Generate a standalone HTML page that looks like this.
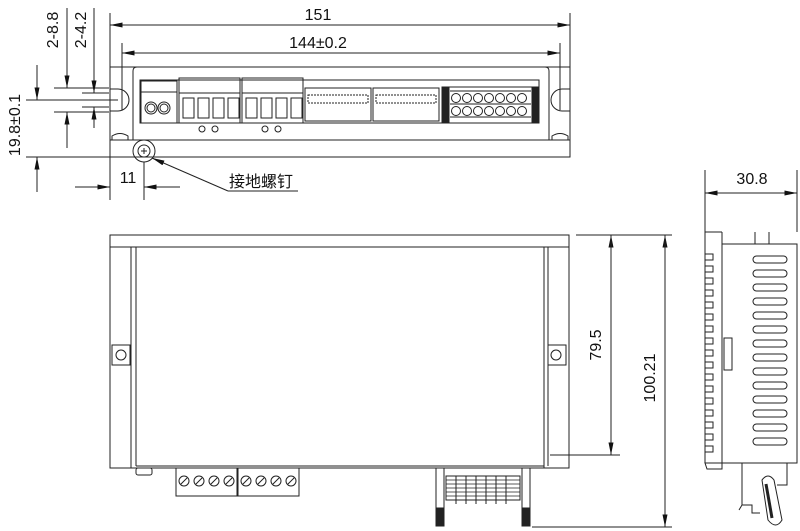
<!DOCTYPE html>
<html><head><meta charset="utf-8"><style>
body{margin:0;background:#fff}
svg{display:block}
text{font-family:"Liberation Sans","Noto Sans CJK SC",sans-serif;fill:#111}
</style></head><body>
<svg width="800" height="531" viewBox="0 0 800 531" xmlns="http://www.w3.org/2000/svg">
<defs>
<marker id="a" viewBox="0 0 10 4" refX="10" refY="2" markerWidth="16" markerHeight="5" orient="auto-start-reverse" markerUnits="userSpaceOnUse"><path d="M0,0L10,2L0,4z" fill="#111"/></marker>
</defs>
<g stroke="#222" stroke-width="1" fill="none">
<!-- TOP VIEW -->
<line x1="110" y1="13" x2="110" y2="67"/><line x1="570" y1="13" x2="570" y2="67"/>
<line x1="110" y1="25" x2="570" y2="25" marker-start="url(#a)" marker-end="url(#a)"/>
<line x1="122" y1="43" x2="122" y2="110"/><line x1="560" y1="43" x2="560" y2="110"/>
<line x1="122" y1="53" x2="560" y2="53" marker-start="url(#a)" marker-end="url(#a)"/>
<rect x="110" y="67" width="460" height="90"/>
<path d="M133,140 V71 Q133,67 137,67 H545 Q549,67 549,71 V140"/>
<line x1="110" y1="140" x2="570" y2="140"/>
<path d="M110,89 H118 A11,11 0 0 1 118,111 H110"/>
<path d="M570,89 H562 A11,11 0 0 0 562,111 H570"/>
<path d="M112,140 V136 Q120,131 128,136 V140"/><path d="M552,140 V136 Q560,131 568,136 V140"/>
<rect x="140" y="80" width="399" height="43"/>
<rect x="141" y="81" width="36" height="42"/><line x1="141" y1="92" x2="177" y2="92"/>
<circle cx="151" cy="108" r="6"/><circle cx="164" cy="108" r="6"/><circle cx="151" cy="108" r="4"/><circle cx="164" cy="108" r="4"/>
<rect x="179" y="78" width="61" height="45"/><line x1="179" y1="93" x2="240" y2="93"/>
<rect x="242" y="78" width="61" height="45"/><line x1="242" y1="93" x2="303" y2="93"/>
<rect x="183" y="98" width="11" height="20"/><rect x="198" y="98" width="11" height="20"/><rect x="213" y="98" width="11" height="20"/><rect x="228" y="98" width="11" height="20"/>
<rect x="246" y="98" width="11" height="20"/><rect x="261" y="98" width="11" height="20"/><rect x="276" y="98" width="11" height="20"/><rect x="291" y="98" width="11" height="20"/>
<rect x="305" y="88" width="66" height="33"/><rect x="373" y="88" width="66" height="33"/>
<path d="M308,95 h60 v8 h-60z M376,95 h60 v8 h-60z" stroke-dasharray="2 1"/>
<rect x="442" y="87" width="97" height="36" fill="#fff"/>
<rect x="443" y="87" width="6" height="36" fill="#222"/><rect x="532" y="87" width="6" height="36" fill="#222"/>
<path d="M450,91h81M450,104h81M450,117h81"/>
<g>
<circle cx="456" cy="98" r="4.5"/><circle cx="467" cy="98" r="4.5"/><circle cx="478" cy="98" r="4.5"/><circle cx="489" cy="98" r="4.5"/><circle cx="500" cy="98" r="4.5"/><circle cx="511" cy="98" r="4.5"/><circle cx="522" cy="98" r="4.5"/>
<circle cx="456" cy="111" r="4.5"/><circle cx="467" cy="111" r="4.5"/><circle cx="478" cy="111" r="4.5"/><circle cx="489" cy="111" r="4.5"/><circle cx="500" cy="111" r="4.5"/><circle cx="511" cy="111" r="4.5"/><circle cx="522" cy="111" r="4.5"/>
</g>
<circle cx="202" cy="129" r="3"/><circle cx="215" cy="129" r="3"/><circle cx="265" cy="129" r="3"/><circle cx="278" cy="129" r="3"/>
<circle cx="144" cy="151" r="11"/><circle cx="144" cy="151" r="6"/>
<path d="M141,151h6M144,148v6"/>
<!-- left dims -->
<line x1="54" y1="88" x2="109" y2="88"/><line x1="26" y1="100" x2="118" y2="100"/><line x1="54" y1="112" x2="109" y2="112"/>
<line x1="82" y1="93" x2="109" y2="93"/><line x1="82" y1="107" x2="109" y2="107"/>
<line x1="26" y1="157" x2="110" y2="157"/>
<line x1="67" y1="8" x2="67" y2="88" marker-end="url(#a)"/><line x1="67" y1="148" x2="67" y2="112" marker-end="url(#a)"/>
<line x1="94" y1="8" x2="94" y2="93" marker-end="url(#a)"/><line x1="94" y1="128" x2="94" y2="107" marker-end="url(#a)"/>
<line x1="37" y1="65" x2="37" y2="100" marker-end="url(#a)"/><line x1="37" y1="192" x2="37" y2="157" marker-end="url(#a)"/>
<line x1="110" y1="157" x2="110" y2="200"/><line x1="144" y1="162" x2="144" y2="200"/>
<line x1="75" y1="187" x2="110" y2="187" marker-end="url(#a)"/><line x1="180" y1="187" x2="144" y2="187" marker-end="url(#a)"/>
<line x1="228" y1="191" x2="152" y2="158" marker-end="url(#a)"/><line x1="228" y1="191" x2="298" y2="191"/>
<!-- FRONT VIEW -->
<rect x="110" y="235" width="459" height="233"/>
<line x1="110" y1="247" x2="569" y2="247"/>
<line x1="131" y1="247" x2="131" y2="468"/><line x1="136" y1="247" x2="136" y2="466"/>
<line x1="544" y1="247" x2="544" y2="468"/><line x1="548" y1="247" x2="548" y2="466"/>
<line x1="136" y1="466" x2="544" y2="466"/>
<circle cx="121" cy="355" r="5"/><rect x="112" y="345" width="18" height="20"/>
<circle cx="556" cy="355" r="5"/><rect x="548" y="345" width="18" height="20"/>
<rect x="136" y="468" width="16" height="7" rx="2"/>
<rect x="176" y="468" width="61" height="28"/><rect x="238" y="468" width="61" height="28"/>
<g fill="#fff"><circle cx="184" cy="481" r="5"/><circle cx="199" cy="481" r="5"/><circle cx="214" cy="481" r="5"/><circle cx="229" cy="481" r="5"/><circle cx="246" cy="481" r="5"/><circle cx="261" cy="481" r="5"/><circle cx="276" cy="481" r="5"/><circle cx="291" cy="481" r="5"/></g>
<path d="M181,484l6,-6M196,484l6,-6M211,484l6,-6M226,484l6,-6M243,484l6,-6M258,484l6,-6M273,484l6,-6M288,484l6,-6"/>
<rect x="436" y="468" width="8" height="58" fill="#fff"/><rect x="522" y="468" width="8" height="58" fill="#fff"/>
<rect x="437" y="508" width="6" height="18" fill="#222"/><rect x="523" y="508" width="6" height="18" fill="#222"/>
<rect x="446" y="476" width="74" height="24"/>
<path d="M446,480h74M446,484h74M446,488h74M446,492h74M446,496h74" stroke-width="0.8"/>
<path d="M456,476v28M466,476v28M476,476v28M486,476v28M496,476v28M506,476v28"/>
<!-- front dims -->
<line x1="576" y1="235" x2="672" y2="235"/>
<line x1="550" y1="455" x2="620" y2="455"/>
<line x1="532" y1="527" x2="672" y2="527"/>
<line x1="611" y1="455" x2="611" y2="235" marker-end="url(#a)"/><line x1="611" y1="235" x2="611" y2="455" marker-end="url(#a)"/>
<line x1="665" y1="527" x2="665" y2="235" marker-end="url(#a)"/><line x1="665" y1="235" x2="665" y2="527" marker-end="url(#a)"/>
<!-- SIDE VIEW -->
<line x1="705" y1="170" x2="705" y2="232"/><line x1="797" y1="170" x2="797" y2="232"/>
<line x1="705" y1="193" x2="797" y2="193" marker-start="url(#a)" marker-end="url(#a)"/>
<path d="M705,463 V232 H722"/>
<rect x="722" y="244" width="75" height="219"/>
<path d="M755,232V244M769,232V244M722,232V244"/>
<path d="M705,254h8v6h-8M705,266h8v6h-8M705,278h8v6h-8M705,290h8v6h-8M705,302h8v6h-8M705,314h8v6h-8M705,326h8v6h-8M705,338h8v6h-8M705,350h8v6h-8M705,362h8v6h-8M705,374h8v6h-8M705,386h8v6h-8M705,398h8v6h-8M705,410h8v6h-8M705,422h8v6h-8M705,434h8v6h-8M705,446h8v6h-8"/>
<path d="M705,463h17v6h-15z"/>
<rect x="724" y="338" width="8" height="32"/>
<g>
<rect x="753" y="256" width="34" height="7" rx="3.5"/><rect x="753" y="270" width="34" height="7" rx="3.5"/><rect x="753" y="284" width="34" height="7" rx="3.5"/><rect x="753" y="298" width="34" height="7" rx="3.5"/><rect x="753" y="312" width="34" height="7" rx="3.5"/><rect x="753" y="326" width="34" height="7" rx="3.5"/><rect x="753" y="340" width="34" height="7" rx="3.5"/><rect x="753" y="354" width="34" height="7" rx="3.5"/><rect x="753" y="368" width="34" height="7" rx="3.5"/><rect x="753" y="382" width="34" height="7" rx="3.5"/><rect x="753" y="396" width="34" height="7" rx="3.5"/><rect x="753" y="410" width="34" height="7" rx="3.5"/><rect x="753" y="424" width="34" height="7" rx="3.5"/><rect x="753" y="438" width="34" height="7" rx="3.5"/>
</g>
<path d="M742,463V505h10v8h8M742,505l-3,5M787,463v22h-10"/>
<path d="M762,480 q6,-8 12,0 l8,40 q-6,10 -14,0z" fill="#fff"/>
<path d="M766,484 l6,34" stroke-width="3"/>
</g>
<!-- TEXT -->
<g font-size="16">
<text x="318" y="20" text-anchor="middle">151</text>
<text x="318" y="48" text-anchor="middle">144±0.2</text>
<text transform="translate(58,30) rotate(-90)" text-anchor="middle">2-8.8</text>
<text transform="translate(86,30) rotate(-90)" text-anchor="middle">2-4.2</text>
<text transform="translate(20,125) rotate(-90)" text-anchor="middle">19.8±0.1</text>
<text x="128" y="183" text-anchor="middle">11</text>
<text x="229" y="187">接地螺钉</text>
<text x="752" y="184" text-anchor="middle">30.8</text>
<text transform="translate(601,345) rotate(-90)" text-anchor="middle">79.5</text>
<text transform="translate(655,378) rotate(-90)" text-anchor="middle">100.21</text>
</g>
</svg>
</body></html>
